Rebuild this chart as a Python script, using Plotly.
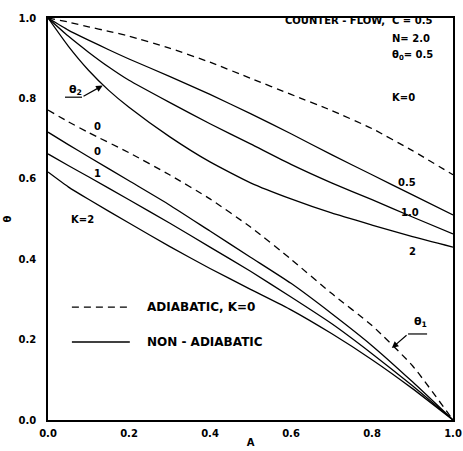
import plotly.graph_objects as go

# ---- data ----
A_upper = [0.0, 0.05, 0.1, 0.15, 0.2, 0.3, 0.4, 0.5, 0.6, 0.7, 0.8, 0.9, 1.0]
theta2_adiabatic_K0 = [1.0, 0.99, 0.978, 0.967, 0.955, 0.925, 0.89, 0.85, 0.81, 0.77, 0.725, 0.67, 0.61]
theta2_K05 = [1.0, 0.97, 0.945, 0.921, 0.898, 0.855, 0.81, 0.762, 0.712, 0.66, 0.61, 0.56, 0.51]
theta2_K10 = [1.0, 0.955, 0.915, 0.878, 0.845, 0.79, 0.737, 0.687, 0.636, 0.59, 0.548, 0.505, 0.463]
theta2_K2 = [1.0, 0.93, 0.87, 0.82, 0.778, 0.705, 0.642, 0.59, 0.55, 0.515, 0.485, 0.456, 0.43]

A_lower = [0.0, 0.05, 0.1, 0.2, 0.3, 0.4, 0.5, 0.6, 0.7, 0.8, 0.9, 1.0]
theta1_adiabatic_K0 = [0.771, 0.742, 0.715, 0.665, 0.61, 0.55, 0.48, 0.40, 0.315, 0.235, 0.135, 0.0]
theta1_K0 = [0.716, 0.685, 0.655, 0.595, 0.535, 0.47, 0.405, 0.34, 0.265, 0.185, 0.095, 0.0]
theta1_K1 = [0.662, 0.633, 0.605, 0.548, 0.49, 0.43, 0.37, 0.306, 0.24, 0.165, 0.085, 0.0]
theta1_K2 = [0.617, 0.580, 0.549, 0.49, 0.432, 0.377, 0.325, 0.274, 0.215, 0.15, 0.078, 0.0]

tick_vals = [0.0, 0.2, 0.4, 0.6, 0.8, 1.0]
tick_text = ["0.0", "0.2", "0.4", "0.6", "0.8", "1.0"]

FONT = "DejaVu Sans"
DASH = "7px,5px"

fig = go.Figure()

def add(x, y, dashed):
    fig.add_trace(go.Scatter(
        x=x, y=y, mode="lines", showlegend=False,
        line=dict(color="black", width=1.3, dash=DASH if dashed else "solid", shape="spline", smoothing=0.5),
        hoverinfo="skip"))

add(A_upper, theta2_adiabatic_K0, True)
add(A_upper, theta2_K05, False)
add(A_upper, theta2_K10, False)
add(A_upper, theta2_K2, False)
add(A_lower, theta1_adiabatic_K0, True)
add(A_lower, theta1_K0, False)
add(A_lower, theta1_K1, False)
add(A_lower, theta1_K2, False)

ann = []
def txt(x, y, s, size=10, xanchor="center", bold=True):
    ann.append(dict(x=x, y=y, xref="x", yref="y", text=s, showarrow=False,
                    xanchor=xanchor, yanchor="middle",
                    font=dict(family=FONT, size=size, color="black",
                              weight="bold" if bold else "normal")))

txt(0.58, 0.993, "COUNTER - FLOW,", 10, "left")
txt(0.844, 0.993, "C = 0.5", 10, "left")
txt(0.844, 0.95, "N= 2.0", 10, "left")
txt(0.844, 0.907, "θ<sub>0</sub>= 0.5", 10, "left")
txt(0.877, 0.803, "K=0")
txt(0.886, 0.59, "0.5")
txt(0.894, 0.517, "1.0")
txt(0.899, 0.418, "2")
txt(0.121, 0.731, "0")
txt(0.121, 0.667, "0")
txt(0.121, 0.614, "1")
txt(0.086, 0.50, "K=2")
txt(0.069, 0.822, "θ<sub>2</sub>", 11)
txt(0.919, 0.243, "θ<sub>1</sub>", 11)
txt(0.24, 0.281, "ADIABATIC, K=0", 12, "left")
txt(0.24, 0.194, "NON - ADIABATIC", 12, "left")

# arrows (tail -> head)
ann.append(dict(x=0.135, y=0.832, ax=0.084, ay=0.803, xref="x", yref="y", axref="x", ayref="y",
                text="", showarrow=True, arrowhead=2, arrowsize=1.1, arrowwidth=1.2, arrowcolor="black"))
ann.append(dict(x=0.849, y=0.179, ax=0.889, ay=0.214, xref="x", yref="y", axref="x", ayref="y",
                text="", showarrow=True, arrowhead=2, arrowsize=1.1, arrowwidth=1.2, arrowcolor="black"))

shapes = [
    dict(type="line", xref="x", yref="y", x0=0.059, x1=0.202, y0=0.281, y1=0.281,
         line=dict(color="black", width=1.3, dash=DASH)),
    dict(type="line", xref="x", yref="y", x0=0.059, x1=0.202, y0=0.194, y1=0.194,
         line=dict(color="black", width=1.3)),
    dict(type="line", xref="x", yref="y", x0=0.042, x1=0.084, y0=0.803, y1=0.803,
         line=dict(color="black", width=1.2)),
    dict(type="line", xref="x", yref="y", x0=0.889, x1=0.936, y0=0.214, y1=0.214,
         line=dict(color="black", width=1.2)),
]

axis_common = dict(range=[0, 1], tickvals=tick_vals, ticktext=tick_text, showgrid=False,
                   zeroline=False, showline=True, linecolor="black", linewidth=1.5, mirror=True,
                   ticks="", automargin=False,
                   tickfont=dict(family=FONT, size=10, color="black", weight="bold"))

fig.update_layout(
    width=463, height=451,
    margin=dict(l=48, r=10, t=18, b=31),
    paper_bgcolor="white", plot_bgcolor="white",
    xaxis=dict(**axis_common, ticklabelstandoff=3,
               title=dict(text="A", standoff=1,
                          font=dict(family=FONT, size=10, color="black", weight="bold"))),
    yaxis=dict(**axis_common, ticklabelstandoff=8,
               title=dict(text="θ", standoff=5,
                          font=dict(family=FONT, size=10, color="black", weight="bold"))),
    annotations=ann, shapes=shapes, showlegend=False,
)

fig.write_html("out.html")
